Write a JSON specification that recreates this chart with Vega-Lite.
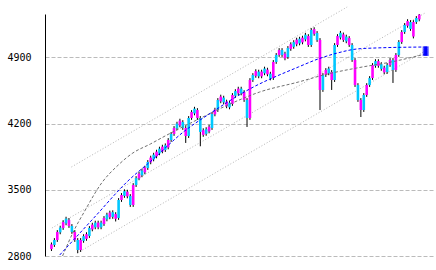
{
  "$schema": "https://vega.github.io/schema/vega-lite/v6.json",
  "width": 388,
  "height": 242,
  "autosize": {"type": "none"},
  "padding": {"left": 45, "top": 14, "right": 3, "bottom": 14},
  "background": "white",
  "config": {"view": {"stroke": null}},
  "datasets": {
    "candles": [
      {"i":0,"o":2873,"h":2943,"l":2853,"c":2923},
      {"i":1,"o":2969,"h":2989,"l":2896,"c":2916},
      {"i":2,"o":2969,"h":3074,"l":2949,"c":3054},
      {"i":3,"o":3100,"h":3120,"l":3030,"c":3050},
      {"i":4,"o":3096,"h":3179,"l":3076,"c":3159},
      {"i":5,"o":3195,"h":3215,"l":3125,"c":3145},
      {"i":6,"o":3117,"h":3201,"l":3097,"c":3181},
      {"i":7,"o":3117,"h":3137,"l":3034,"c":3054},
      {"i":8,"o":2969,"h":3074,"l":2949,"c":3054},
      {"i":9,"o":2969,"h":2989,"l":2830,"c":2863},
      {"i":10,"o":2863,"h":2989,"l":2843,"c":2969},
      {"i":11,"o":3010,"h":3030,"l":2940,"c":2960},
      {"i":12,"o":2981,"h":3051,"l":2961,"c":3031},
      {"i":13,"o":3096,"h":3116,"l":2991,"c":3011},
      {"i":14,"o":3081,"h":3151,"l":3061,"c":3131},
      {"i":15,"o":3153,"h":3173,"l":3083,"c":3103},
      {"i":16,"o":3103,"h":3173,"l":3083,"c":3153},
      {"i":17,"o":3153,"h":3173,"l":3083,"c":3103},
      {"i":18,"o":3138,"h":3222,"l":3118,"c":3202},
      {"i":19,"o":3237,"h":3257,"l":3167,"c":3187},
      {"i":20,"o":3209,"h":3279,"l":3189,"c":3259},
      {"i":21,"o":3263,"h":3283,"l":3193,"c":3213},
      {"i":22,"o":3193,"h":3263,"l":3165,"c":3243},
      {"i":23,"o":3392,"h":3412,"l":3182,"c":3202},
      {"i":24,"o":3392,"h":3465,"l":3372,"c":3445},
      {"i":25,"o":3485,"h":3505,"l":3415,"c":3435},
      {"i":26,"o":3430,"h":3500,"l":3410,"c":3480},
      {"i":27,"o":3434,"h":3454,"l":3319,"c":3339},
      {"i":28,"o":3339,"h":3570,"l":3319,"c":3550},
      {"i":29,"o":3624,"h":3644,"l":3530,"c":3550},
      {"i":30,"o":3621,"h":3691,"l":3601,"c":3671},
      {"i":31,"o":3703,"h":3723,"l":3633,"c":3653},
      {"i":32,"o":3684,"h":3754,"l":3664,"c":3734},
      {"i":33,"o":3794,"h":3814,"l":3710,"c":3730},
      {"i":34,"o":3790,"h":3860,"l":3770,"c":3840},
      {"i":35,"o":3871,"h":3891,"l":3801,"c":3821},
      {"i":36,"o":3853,"h":3923,"l":3833,"c":3903},
      {"i":37,"o":3935,"h":3955,"l":3865,"c":3885},
      {"i":38,"o":3906,"h":3976,"l":3886,"c":3956},
      {"i":39,"o":3970,"h":3990,"l":3900,"c":3920},
      {"i":40,"o":3948,"h":4046,"l":3928,"c":4026},
      {"i":41,"o":4090,"h":4110,"l":4006,"c":4026},
      {"i":42,"o":4090,"h":4173,"l":4070,"c":4153},
      {"i":43,"o":4199,"h":4219,"l":4129,"c":4149},
      {"i":44,"o":4181,"h":4251,"l":4161,"c":4231},
      {"i":45,"o":4216,"h":4236,"l":4133,"c":4153},
      {"i":46,"o":4068,"h":4173,"l":3995,"c":4153},
      {"i":47,"o":4259,"h":4279,"l":4048,"c":4068},
      {"i":48,"o":4259,"h":4342,"l":4239,"c":4322},
      {"i":49,"o":4357,"h":4377,"l":4287,"c":4307},
      {"i":50,"o":4259,"h":4363,"l":4239,"c":4343},
      {"i":51,"o":4259,"h":4279,"l":3960,"c":4111},
      {"i":52,"o":4080,"h":4150,"l":4060,"c":4130},
      {"i":53,"o":4141,"h":4161,"l":4071,"c":4091},
      {"i":54,"o":4117,"h":4187,"l":4097,"c":4167},
      {"i":55,"o":4301,"h":4321,"l":4133,"c":4153},
      {"i":56,"o":4297,"h":4367,"l":4277,"c":4347},
      {"i":57,"o":4449,"h":4469,"l":4323,"c":4343},
      {"i":58,"o":4435,"h":4505,"l":4415,"c":4485},
      {"i":59,"o":4474,"h":4494,"l":4404,"c":4424},
      {"i":60,"o":4382,"h":4452,"l":4362,"c":4432},
      {"i":61,"o":4421,"h":4441,"l":4351,"c":4371},
      {"i":62,"o":4407,"h":4522,"l":4387,"c":4502},
      {"i":63,"o":4543,"h":4563,"l":4473,"c":4493},
      {"i":64,"o":4519,"h":4589,"l":4499,"c":4569},
      {"i":65,"o":4569,"h":4589,"l":4499,"c":4519},
      {"i":66,"o":4449,"h":4553,"l":4429,"c":4533},
      {"i":67,"o":4449,"h":4469,"l":4164,"c":4259},
      {"i":68,"o":4259,"h":4680,"l":4239,"c":4660},
      {"i":69,"o":4713,"h":4733,"l":4640,"c":4660},
      {"i":70,"o":4704,"h":4774,"l":4684,"c":4754},
      {"i":71,"o":4749,"h":4769,"l":4679,"c":4699},
      {"i":72,"o":4699,"h":4769,"l":4679,"c":4749},
      {"i":73,"o":4781,"h":4801,"l":4711,"c":4731},
      {"i":74,"o":4720,"h":4790,"l":4700,"c":4770},
      {"i":75,"o":4727,"h":4747,"l":4657,"c":4677},
      {"i":76,"o":4681,"h":4871,"l":4661,"c":4851},
      {"i":77,"o":4925,"h":4945,"l":4831,"c":4851},
      {"i":78,"o":4925,"h":4997,"l":4905,"c":4977},
      {"i":79,"o":4977,"h":4997,"l":4905,"c":4925},
      {"i":80,"o":4889,"h":4959,"l":4869,"c":4939},
      {"i":81,"o":4999,"h":5019,"l":4883,"c":4903},
      {"i":82,"o":4989,"h":5059,"l":4969,"c":5039},
      {"i":83,"o":5061,"h":5081,"l":4991,"c":5011},
      {"i":84,"o":5037,"h":5107,"l":5017,"c":5087},
      {"i":85,"o":5097,"h":5117,"l":5027,"c":5047},
      {"i":86,"o":5058,"h":5128,"l":5038,"c":5108},
      {"i":87,"o":5139,"h":5159,"l":5069,"c":5089},
      {"i":88,"o":5030,"h":5145,"l":5010,"c":5125},
      {"i":89,"o":5189,"h":5209,"l":5010,"c":5030},
      {"i":90,"o":5148,"h":5218,"l":5128,"c":5198},
      {"i":91,"o":5157,"h":5177,"l":5063,"c":5083},
      {"i":92,"o":4555,"h":5103,"l":4343,"c":5083},
      {"i":93,"o":4713,"h":4733,"l":4535,"c":4555},
      {"i":94,"o":4713,"h":4786,"l":4693,"c":4766},
      {"i":95,"o":4781,"h":4801,"l":4711,"c":4731},
      {"i":96,"o":4660,"h":4765,"l":4555,"c":4745},
      {"i":97,"o":5030,"h":5050,"l":4640,"c":4660},
      {"i":98,"o":5030,"h":5145,"l":5010,"c":5125},
      {"i":99,"o":5159,"h":5179,"l":5089,"c":5109},
      {"i":100,"o":5083,"h":5162,"l":5063,"c":5142},
      {"i":101,"o":5119,"h":5139,"l":5049,"c":5069},
      {"i":102,"o":5030,"h":5124,"l":5010,"c":5104},
      {"i":103,"o":5030,"h":5050,"l":4852,"c":4872},
      {"i":104,"o":4607,"h":4892,"l":4587,"c":4872},
      {"i":105,"o":4607,"h":4627,"l":4429,"c":4449},
      {"i":106,"o":4343,"h":4469,"l":4269,"c":4449},
      {"i":107,"o":4502,"h":4522,"l":4323,"c":4343},
      {"i":108,"o":4502,"h":4627,"l":4482,"c":4607},
      {"i":109,"o":4681,"h":4701,"l":4587,"c":4607},
      {"i":110,"o":4681,"h":4839,"l":4661,"c":4819},
      {"i":111,"o":4860,"h":4880,"l":4790,"c":4810},
      {"i":112,"o":4810,"h":4880,"l":4790,"c":4860},
      {"i":113,"o":4828,"h":4848,"l":4758,"c":4778},
      {"i":114,"o":4741,"h":4811,"l":4721,"c":4791},
      {"i":115,"o":4819,"h":4839,"l":4725,"c":4745},
      {"i":116,"o":4819,"h":4892,"l":4799,"c":4872},
      {"i":117,"o":4872,"h":4892,"l":4629,"c":4766},
      {"i":118,"o":4766,"h":4945,"l":4746,"c":4925},
      {"i":119,"o":5062,"h":5082,"l":4905,"c":4925},
      {"i":120,"o":5062,"h":5188,"l":5042,"c":5168},
      {"i":121,"o":5242,"h":5262,"l":5148,"c":5168},
      {"i":122,"o":5233,"h":5303,"l":5213,"c":5283},
      {"i":123,"o":5273,"h":5293,"l":5180,"c":5200},
      {"i":124,"o":5120,"h":5293,"l":5100,"c":5273},
      {"i":125,"o":5316,"h":5336,"l":5253,"c":5273},
      {"i":126,"o":5301,"h":5358,"l":5281,"c":5351}
    ],
    "channel": [
      {"line":"upper","i":6.84,"v":3741},
      {"line":"upper","i":101.3,"v":5432},
      {"line":"middle","i":0.17,"v":3096},
      {"line":"middle","i":128,"v":5369},
      {"line":"lower","i":8.85,"v":2832},
      {"line":"lower","i":128,"v":4967}
    ],
    "grayCurve": [
      {"i":3.8,"v":2800},{"i":7.8,"v":3075},{"i":11.2,"v":3265},{"i":17.2,"v":3572},
      {"i":22.9,"v":3762},{"i":27.9,"v":3889},{"i":33.9,"v":3984},{"i":38.9,"v":4068},
      {"i":51.2,"v":4259},{"i":61.2,"v":4407},{"i":71.3,"v":4533},{"i":84.6,"v":4639},
      {"i":94.6,"v":4724},{"i":104.6,"v":4787},{"i":118,"v":4861},{"i":128,"v":4935}
    ],
    "blueCurve": [
      {"i":2.84,"v":2811},{"i":14.5,"v":3202},{"i":26.2,"v":3593},{"i":34.5,"v":3815},
      {"i":45.6,"v":4121},{"i":54.6,"v":4312},{"i":67.9,"v":4565},{"i":84.6,"v":4798},
      {"i":91.3,"v":4882},{"i":98,"v":4946},{"i":104.6,"v":4988},{"i":111.3,"v":4999},
      {"i":127.5,"v":5009}
    ],
    "marker": [
      {"i":128.2,"lo":4918,"hi":5015}
    ],
    "markerTicks": [
      {"i":128.2,"v":4925},{"i":128.2,"v":4945},{"i":128.2,"v":4965},
      {"i":128.2,"v":4985},{"i":128.2,"v":5005}
    ]
  },
  "layer": [
    {
      "data": {"name": "channel"},
      "mark": {"type": "line", "color": "#b4b4b4", "strokeWidth": 1, "strokeDash": [1, 2], "clip": false},
      "encoding": {
        "x": {"field": "i", "type": "quantitative", "scale": {"domain": [-0.5, 129], "nice": false, "zero": false}, "axis": null},
        "y": {"field": "v", "type": "quantitative", "scale": {"domain": [2800, 5358], "nice": false, "zero": false},
          "axis": {
            "values": [2800, 3500, 4200, 4900],
            "format": "d",
            "title": null,
            "grid": true,
            "gridColor": "#bbbbbb",
            "gridDash": [4, 2],
            "gridWidth": 1,
            "ticks": false,
            "domain": true,
            "domainColor": "#000000",
            "domainWidth": 1,
            "labelFont": "DejaVu Sans Mono",
            "labelFontSize": 10,
            "labelColor": "#000000",
            "labelPadding": 14
          }
        },
        "detail": {"field": "line", "type": "nominal"}
      }
    },
    {
      "data": {"name": "candles"},
      "mark": {"type": "rule", "color": "#000000", "strokeWidth": 1},
      "encoding": {
        "x": {"field": "i", "type": "quantitative"},
        "y": {"field": "l", "type": "quantitative"},
        "y2": {"field": "h"}
      }
    },
    {
      "data": {"name": "candles"},
      "mark": {"type": "bar", "size": 2.6},
      "encoding": {
        "x": {"field": "i", "type": "quantitative"},
        "y": {"field": "o", "type": "quantitative"},
        "y2": {"field": "c"},
        "color": {
          "condition": {"test": "datum.c >= datum.o", "value": "#ff00ff"},
          "value": "#00c8ff"
        }
      }
    },
    {
      "data": {"name": "grayCurve"},
      "mark": {"type": "line", "color": "#707070", "strokeWidth": 1, "strokeDash": [3, 2], "interpolate": "monotone"},
      "encoding": {
        "x": {"field": "i", "type": "quantitative"},
        "y": {"field": "v", "type": "quantitative"}
      }
    },
    {
      "data": {"name": "blueCurve"},
      "mark": {"type": "line", "color": "#0000ff", "strokeWidth": 1, "strokeDash": [3, 2], "interpolate": "monotone"},
      "encoding": {
        "x": {"field": "i", "type": "quantitative"},
        "y": {"field": "v", "type": "quantitative"}
      }
    },
    {
      "data": {"name": "marker"},
      "mark": {"type": "bar", "size": 3, "color": "#0000ff"},
      "encoding": {
        "x": {"field": "i", "type": "quantitative"},
        "y": {"field": "lo", "type": "quantitative"},
        "y2": {"field": "hi"}
      }
    },
    {
      "data": {"name": "markerTicks"},
      "mark": {"type": "tick", "orient": "horizontal", "size": 6, "thickness": 2, "color": "#0000ff"},
      "encoding": {
        "x": {"field": "i", "type": "quantitative"},
        "y": {"field": "v", "type": "quantitative"}
      }
    }
  ]
}
